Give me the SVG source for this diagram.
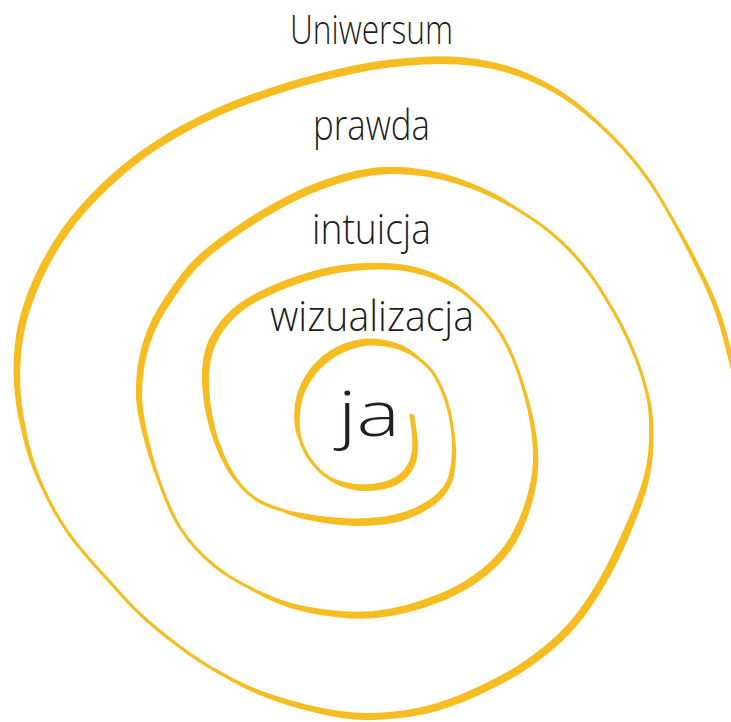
<svg xmlns="http://www.w3.org/2000/svg" width="731" height="722" viewBox="0 0 731 722">
<style>
.sp{fill:none;stroke:#F6BD22;stroke-width:3.2;stroke-linecap:round;stroke-linejoin:round}
.th{fill:#F6BD22;stroke:none}
.lbl{font-family:"Open Sans","Liberation Sans","DejaVu Sans",sans-serif;font-weight:300;fill:#231F20;font-size:42px}
</style>
<rect width="731" height="722" fill="#FFFFFF"/>
<g id="spiral">
<path class="sp" d="M411 415 Q415 440 413.5 451.5 Q412 463 404.5 471.5 Q397 480 383.5 483.5 Q370 487 355 485.5 Q340 484 330 478.5 Q320 473 311.5 461.5 Q303 450 300 438.5 Q297 427 298.5 412 Q300 397 306.5 385 Q313 373 323 364 Q333 355 345 350 Q357 345 368.5 344 Q380 343 393.5 346.5 Q407 350 418.5 358.5 Q430 367 436 377.5 Q442 388 446 400 Q450 412 452 426 Q454 440 453.5 452.5 Q453 465 450.5 475 Q448 485 439 494 Q430 503 415 509.5 Q400 516 385 518 Q370 520 355 520 Q340 520 320 517.5 Q300 515 285 511 Q270 507 260 501.5 Q250 496 242 487 Q234 478 228 466.5 Q222 455 217.5 441.5 Q213 428 210.5 414 Q208 400 207.5 386 Q207 372 209 361 Q211 350 215.5 341 Q220 332 226.5 324 Q233 316 241.5 309.5 Q250 303 261 297.5 Q272 292 286 286.5 Q300 281 320 275.5 Q340 270 365 268.5 Q390 267 407.5 270 Q425 273 441 280 Q457 287 467.5 295.5 Q478 304 486.5 314 Q495 324 501.5 335 Q508 346 513 358 Q518 370 522 383 Q526 396 529 409.5 Q532 423 533.5 436.5 Q535 450 534.5 462.5 Q534 475 531 487.5 Q528 500 524 511 Q520 522 514.5 532.5 Q509 543 501 552.5 Q493 562 484.5 569 Q476 576 464.5 583 Q453 590 438 596 Q423 602 406.5 606.5 Q390 611 373.5 612.5 Q357 614 339.5 612.5 Q322 611 306 608 Q290 605 277 600 Q264 595 252 589 Q240 583 231 577.5 Q222 572 213.5 565 Q205 558 196.5 549 Q188 540 181.5 530 Q175 520 170 508.5 Q165 497 160 483.5 Q155 470 151 455 Q147 440 144.5 427.5 Q142 415 141 405 Q140 395 141 381.5 Q142 368 145 355.5 Q148 343 153 331.5 Q158 320 165 309 Q172 298 179 288 Q186 278 193 270 Q200 262 209 254.5 Q218 247 230 238.5 Q242 230 257 220.5 Q272 211 289.5 202 Q307 193 323.5 187 Q340 181 356.5 177 Q373 173 390 172.5 Q407 172 426 175 Q445 178 462.5 184 Q480 190 492.5 196 Q505 202 517.5 209.5 Q530 217 541 225 Q552 233 562.5 243 Q573 253 582.5 264.5 Q592 276 599.5 288 Q607 300 614 312 Q621 324 627 337 Q633 350 638 363.5 Q643 377 646.5 391 Q650 405 650.5 417.5 Q651 430 650.5 442.5 Q650 455 648 465 Q646 475 643 485 Q640 495 635.5 506 Q631 517 625.5 529.5 Q620 542 613 556.5 Q606 571 597 586 Q588 601 579 613 Q570 625 558.5 636 Q547 647 531 658.5 Q515 670 497.5 679 Q480 688 466 694 Q452 700 437.5 704.5 Q423 709 406.5 711.5 Q390 714 373.5 714.5 Q357 715 339.5 712.5 Q322 710 306 706 Q290 702 277.5 698 Q265 694 252.5 689 Q240 684 220 673 Q200 662 180 647 Q160 632 146.5 620 Q133 608 121.5 595 Q110 582 98.5 569.5 Q87 557 77 544.5 Q67 532 59.5 519.5 Q52 507 46 494.5 Q40 482 35.5 470 Q31 458 28 445.5 Q25 433 22.5 419 Q20 405 19 391 Q18 377 19 361 Q20 345 22.5 332.5 Q25 320 29 308 Q33 296 38 284.5 Q43 273 49 262 Q55 251 61.5 241 Q68 231 75.5 221.5 Q83 212 91.5 203 Q100 194 108.5 186 Q117 178 126 170.5 Q135 163 144 156.5 Q153 150 162.5 144 Q172 138 187.5 129.5 Q203 121 220 113.5 Q237 106 254.5 100 Q272 94 289.5 88.5 Q307 83 323.5 79 Q340 75 356.5 71.5 Q373 68 390 66 Q407 64 423.5 63 Q440 62 458.5 63 Q477 64 495 68 Q513 72 529.5 79 Q546 86 559 94 Q572 102 584.5 112 Q597 122 610 134.5 Q623 147 635 162 Q647 177 655.5 190.5 Q664 204 672 218.5 Q680 233 688.5 249.5 Q697 266 704.5 282 Q712 298 717.5 314 Q723 330 735 380"/>
<path class="th" d="M414.1 414.6 Q419.1 442.1 417.55 454.85 Q416 467.6 407.6 476.8 Q399.2 486 384.4 489.3 Q369.6 492.6 353.95 489.9 Q338.3 487.2 329.15 480.1 L330 478.5 Q340 484 355 485.5 Q370 487 383.5 483.5 Q397 480 404.5 471.5 Q412 463 413.5 451.5 Q415 440 411 415 Z"/>
<path class="th" d="M298.2 438.65 Q293.4 427.3 294.25 411.4 Q295.1 395.5 301.6 382.4 Q308.1 369.3 318.8 359.45 Q329.5 349.6 342.55 344.35 Q355.6 339.1 367.95 338.5 Q380.3 337.9 394.4 342.3 Q408.5 346.7 419.25 356.85 L418.5 358.5 Q407 350 393.5 346.5 Q380 343 368.5 344 Q357 345 345 350 Q333 355 323 364 Q313 373 306.5 385 Q300 397 298.5 412 Q297 427 300 438.5 Z"/>
<path class="th" d="M453.2 426.45 Q456.4 440.9 456.2 453.95 Q456 467 453.65 477.6 Q451.3 488.2 442.15 497.95 Q433 507.7 417.35 514.9 Q401.7 522.1 385.85 524.25 Q370 526.4 354.25 525.9 Q338.5 525.4 318.1 521.9 Q297.7 518.4 283.85 512.7 L285 511 Q300 515 320 517.5 Q340 520 355 520 Q370 520 385 518 Q400 516 415 509.5 Q430 503 439 494 Q448 485 450.5 475 Q453 465 453.5 452.5 Q454 440 452 426 Z"/>
<path class="th" d="M241.05 487.45 Q232.1 478.9 225.55 467.4 Q219 455.9 213.95 442.2 Q208.9 428.5 205.9 414.1 Q202.9 399.7 202.15 385.2 Q201.4 370.7 203.2 359.2 Q205 347.7 209.65 338.35 Q214.3 329 221 320.7 Q227.7 312.4 236.45 305.55 Q245.2 298.7 256.55 292.9 Q267.9 287.1 282.45 281.25 Q297 275.4 317.85 269.7 Q338.7 264 364.7 263 Q390.7 262 408.6 265.6 Q426.5 269.2 442.55 276.95 Q458.6 284.7 468.3 294.35 L467.5 295.5 Q457 287 441 280 Q425 273 407.5 270 Q390 267 365 268.5 Q340 270 320 275.5 Q300 281 286 286.5 Q272 292 261 297.5 Q250 303 241.5 309.5 Q233 316 226.5 324 Q220 332 215.5 341 Q211 350 209 361 Q207 372 207.5 386 Q208 400 210.5 414 Q213 428 217.5 441.5 Q222 455 228 466.5 Q234 478 242 487 Z"/>
<path class="th" d="M523.05 382.85 Q528.1 395.7 531.45 409.4 Q534.8 423.1 536.65 436.85 Q538.5 450.6 538.35 463.5 Q538.2 476.4 535.4 489.4 Q532.6 502.4 528.7 513.85 Q524.8 525.3 519.3 536.25 Q513.8 547.2 505.5 557 Q497.2 566.8 488.4 574.05 Q479.6 581.3 467.7 588.55 Q455.8 595.8 440.3 601.95 Q424.8 608.1 407.7 612.6 Q390.6 617.1 373.6 618.35 Q356.6 619.6 338.75 617.55 Q320.9 615.5 304.75 611.9 Q288.6 608.3 275.65 602.75 Q262.7 597.2 251.35 590.1 L252 589 Q264 595 277 600 Q290 605 306 608 Q322 611 339.5 612.5 Q357 614 373.5 612.5 Q390 611 406.5 606.5 Q423 602 438 596 Q453 590 464.5 583 Q476 576 484.5 569 Q493 562 501 552.5 Q509 543 514.5 532.5 Q520 522 524 511 Q528 500 531 487.5 Q534 475 534.5 462.5 Q535 450 533.5 436.5 Q532 423 529 409.5 Q526 396 522 383 Z"/>
<path class="th" d="M159 483.8 Q153 470.6 148.45 455.55 Q143.9 440.5 140.9 427.9 Q137.9 415.3 136.65 405.1 Q135.4 394.9 136.15 381.1 Q136.9 367.3 139.75 354.5 Q142.6 341.7 147.3 329.75 Q152 317.8 159.1 306.5 Q166.2 295.2 173.4 284.9 Q180.6 274.6 187.75 266.35 Q194.9 258.1 204.1 250.35 Q213.3 242.6 225.65 233.8 Q238 225 253.4 215.2 Q268.8 205.4 286.85 196.2 Q304.9 187 321.85 180.85 Q338.8 174.7 355.8 170.8 Q372.8 166.9 390.25 166.7 Q407.7 166.5 427 170.05 Q446.3 173.6 463.9 180.2 Q481.5 186.8 493.95 193.3 Q506.4 199.8 518.2 208.4 L517.5 209.5 Q505 202 492.5 196 Q480 190 462.5 184 Q445 178 426 175 Q407 172 390 172.5 Q373 173 356.5 177 Q340 181 323.5 187 Q307 193 289.5 202 Q272 211 257 220.5 Q242 230 230 238.5 Q218 247 209 254.5 Q200 262 193 270 Q186 278 179 288 Q172 298 165 309 Q158 320 153 331.5 Q148 343 145 355.5 Q142 368 141 381.5 Q140 395 141 405 Q142 415 144.5 427.5 Q147 440 151 455 Q155 470 160 483.5 Z"/>
<path class="th" d="M647.55 391 Q652.1 405 652.85 417.65 Q653.6 430.3 653.45 442.95 Q653.3 455.6 651.7 465.85 Q650.1 476.1 647.4 486.4 Q644.7 496.7 640.5 508.05 Q636.3 519.4 630.95 532.25 Q625.6 545.1 618.4 559.95 Q611.2 574.8 601.95 590.05 Q592.7 605.3 583.45 617.55 Q574.2 629.8 562.45 641 Q550.7 652.2 534.35 663.9 Q518 675.6 500.15 684.8 Q482.3 694 468 700.05 Q453.7 706.1 438.85 710.55 Q424 715 407.15 717.3 Q390.3 719.6 373.55 720.1 Q356.8 720.6 339.05 717.7 Q321.3 714.8 305.15 710.35 Q289 705.9 276.45 701.4 Q263.9 696.9 251.45 691.55 Q239 686.2 219.5 674.1 L220 673 Q240 684 252.5 689 Q265 694 277.5 698 Q290 702 306 706 Q322 710 339.5 712.5 Q357 715 373.5 714.5 Q390 714 406.5 711.5 Q423 709 437.5 704.5 Q452 700 466 694 Q480 688 497.5 679 Q515 670 531 658.5 Q547 647 558.5 636 Q570 625 579 613 Q588 601 597 586 Q606 571 613 556.5 Q620 542 625.5 529.5 Q631 517 635.5 506 Q640 495 643 485 Q646 475 648 465 Q650 455 650.5 442.5 Q651 430 650.5 417.5 Q650 405 646.5 391 Z"/>
<path class="th" d="M45 494.8 Q38 482.6 33.25 470.55 Q28.5 458.5 25.05 445.95 Q21.6 433.4 18.7 419.3 Q15.8 405.2 14.5 391 Q13.2 376.8 13.8 360.55 Q14.4 344.3 16.7 331.55 Q19 318.8 22.9 306.55 Q26.8 294.3 31.9 282.55 Q37 270.8 43.05 259.6 Q49.1 248.4 55.7 238.2 Q62.3 228 69.95 218.3 Q77.6 208.6 86.2 199.4 Q94.8 190.2 103.45 182.05 Q112.1 173.9 121.25 166.25 Q130.4 158.6 139.55 151.95 Q148.7 145.3 158.35 139.15 Q168 133 183.8 124.3 Q199.6 115.6 216.95 107.9 Q234.3 100.2 252.15 94.05 Q270 87.9 287.85 82.3 Q305.7 76.7 322.55 72.65 Q339.4 68.6 356.25 65.1 Q373.1 61.6 390.4 59.6 Q407.7 57.6 424.5 56.65 Q441.3 55.7 460.05 57.05 Q478.8 58.4 496.95 62.9 Q515.1 67.4 531.6 74.95 Q548.1 82.5 560.95 91 Q573.8 99.5 586.1 109.9 Q598.4 120.3 610.7 133.65 L610 134.5 Q597 122 584.5 112 Q572 102 559 94 Q546 86 529.5 79 Q513 72 495 68 Q477 64 458.5 63 Q440 62 423.5 63 Q407 64 390 66 Q373 68 356.5 71.5 Q340 75 323.5 79 Q307 83 289.5 88.5 Q272 94 254.5 100 Q237 106 220 113.5 Q203 121 187.5 129.5 Q172 138 162.5 144 Q153 150 144 156.5 Q135 163 126 170.5 Q117 178 108.5 186 Q100 194 91.5 203 Q83 212 75.5 221.5 Q68 231 61.5 241 Q55 251 49 262 Q43 273 38 284.5 Q33 296 29 308 Q25 320 22.5 332.5 Q20 345 19 361 Q18 377 19 391 Q20 405 22.5 419 Q25 433 28 445.5 Q31 458 35.5 470 Q40 482 46 494.5 Z"/>
<path class="th" d="M672.95 218.05 Q681.9 232.1 690.65 248.6 Q699.4 265.1 707.2 281.15 Q715 297.2 720.75 313.3 Q726.5 329.4 738.6 379.9 L735 380 Q723 330 717.5 314 Q712 298 704.5 282 Q697 266 688.5 249.5 Q680 233 672 218.5 Z"/>
</g>
<g id="label-uniwersum"><text class="lbl" x="290" y="44" style="font-size:40px" textLength="163" lengthAdjust="spacingAndGlyphs">Uniwersum</text></g>
<g id="label-prawda"><text class="lbl" x="313" y="140" textLength="117" lengthAdjust="spacingAndGlyphs">prawda</text></g>
<g id="label-intuicja"><text class="lbl" x="312" y="244" textLength="119" lengthAdjust="spacingAndGlyphs">intuicja</text></g>
<g id="label-wizualizacja"><text class="lbl" x="270" y="331" textLength="204" lengthAdjust="spacingAndGlyphs">wizualizacja</text></g>
<g id="label-ja"><text class="lbl" x="338" y="436" style="font-size:62px" textLength="62" lengthAdjust="spacingAndGlyphs">ja</text></g>
</svg>
